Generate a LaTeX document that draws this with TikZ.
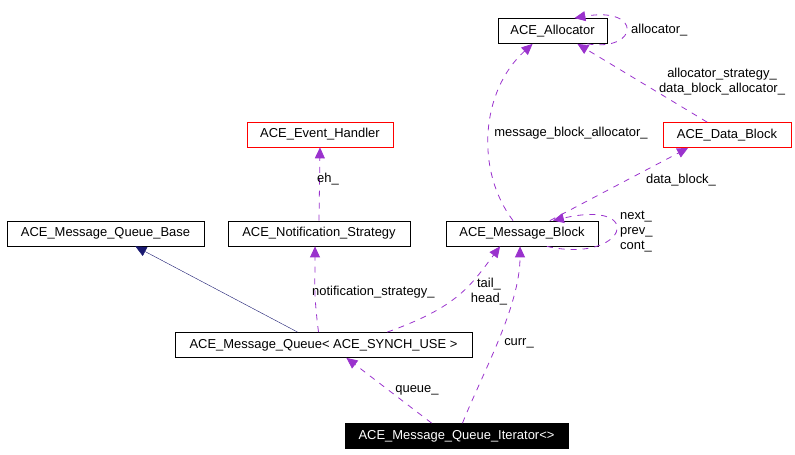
\documentclass[tikz,border=0pt]{standalone}
\usepackage{fontspec}
\setmainfont{Liberation Sans}
\usetikzlibrary{arrows.meta}
\definecolor{member}{HTML}{9A32CD}
\definecolor{midblue}{HTML}{191970}

\begin{document}
\begin{tikzpicture}[x=1bp, y=-1bp,
    font=\fontsize{13}{15}\selectfont,
    cls/.style={draw, thick, minimum height=25bp, inner sep=0pt},
    redcls/.style={cls, draw=red},
    usage/.style={draw=member, thick, dash pattern=on 6pt off 6pt, -{Triangle[length=11pt, width=10pt]}},
    inherit/.style={draw=midblue, -{Triangle[length=11pt, width=10pt]}},
    lbl/.style={inner sep=0pt, align=center}]
    \useasboundingbox (0,0) rectangle (795,455);
    % classes
    \node [cls, minimum width=109bp] (alloc) at (552.5,31) {ACE\_Allocator};
    \node [redcls, minimum width=128bp] (datablock) at (727,135) {ACE\_Data\_Block};
    \node [cls, minimum width=152bp] (msgblock) at (522,233.5) {ACE\_Message\_Block};
    \node [redcls, minimum width=146bp] (handler) at (320,134.5) {ACE\_Event\_Handler};
    \node [cls, minimum width=197bp] (qbase) at (105.5,233.5) {ACE\_Message\_Queue\_Base};
    \node [cls, minimum width=182bp] (notif) at (319,233.5) {ACE\_Notification\_Strategy};
    \node [cls, minimum width=297bp] (mq) at (323.5,345) {ACE\_Message\_Queue< ACE\_SYNCH\_USE >};
    \node [cls, fill=black, text=white, minimum width=223bp] (iter) at (456.5,436) {ACE\_Message\_Queue\_Iterator<>};
    % members
    \draw [usage] ([xshift=35]alloc.south) .. controls +(52,8) and +(68,-12) .. ([xshift=22]alloc.north);
    \node [lbl, anchor=west] (allocself) at (631,30) {allocator\_};
    \draw [usage] ([xshift=-20]datablock.north) -- ([xshift=25]alloc.south);
    \node [lbl] (allocstrat) at (722,82) {allocator\_strategy\_\\data\_block\_allocator\_};
    \draw [usage] ([xshift=-9]msgblock.north) .. controls +(-38,-50) and +(-52,47) .. ([xshift=-20]alloc.south);
    \node [lbl] (mballoc) at (571,133) {message\_block\_allocator\_};
    \draw [usage] ([xshift=28]msgblock.north) -- ([xshift=-39]datablock.south);
    \node [lbl] (dblock) at (681,180) {data\_block\_};
    \draw [usage] ([xshift=25]msgblock.south) .. controls +(80,18) and +(94,-22) .. ([xshift=31]msgblock.north);
    \node [lbl, anchor=west, align=left] (links) at (620,232) {next\_\\prev\_\\cont\_};
    \draw [usage] (notif.north) -- (handler.south);
    \node [lbl, anchor=west] (eh) at (317,179) {eh\_};
    \draw [inherit] ([xshift=-26]mq.north) -- ([xshift=30]qbase.south);
    \draw [usage] ([xshift=-5]mq.north) .. controls +(-5,-40) and +(0,40) .. ([xshift=-4]notif.south);
    \node [lbl, anchor=west] (strat) at (312,292) {notification\_strategy\_};
    \draw [usage] ([xshift=64]mq.north) .. controls +(70,-25) and +(-30,40) .. ([xshift=-22]msgblock.south);
    \node [lbl] (tailhead) at (489,292) {tail\_\\head\_};
    \draw [usage] ([xshift=6]iter.north) .. controls +(20,-50) and +(0,60) .. ([xshift=-2]msgblock.south);
    \node [lbl] (curr) at (519,343) {curr\_};
    \draw [usage] ([xshift=-25]iter.north) -- ([xshift=23]mq.south);
    \node [lbl] (queue) at (417,390) {queue\_};
\end{tikzpicture}
\end{document}
